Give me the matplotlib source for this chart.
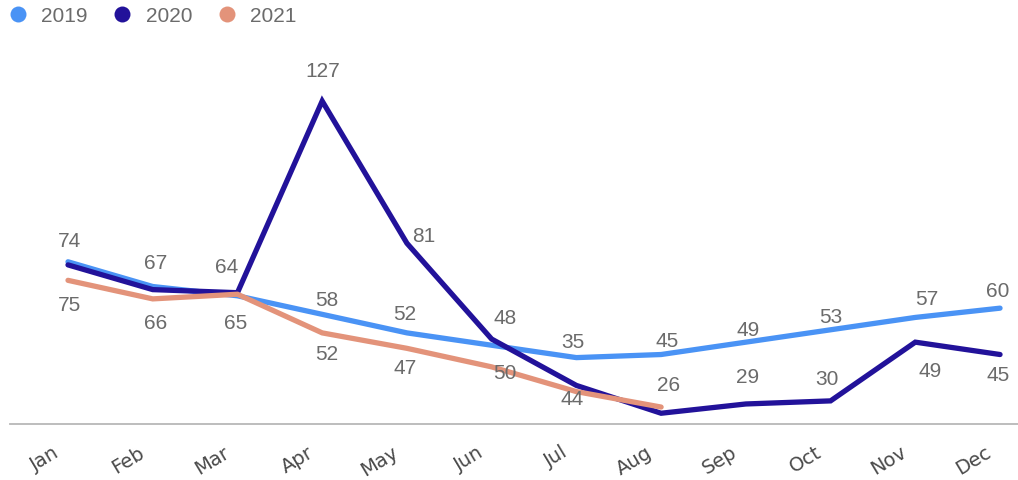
import matplotlib
matplotlib.use("Agg")
import matplotlib.pyplot as plt
from matplotlib.lines import Line2D
from matplotlib.transforms import ScaledTranslation

# ---- data -------------------------------------------------------------
months = ["Jan", "Feb", "Mar", "Apr", "May", "Jun",
          "Jul", "Aug", "Sep", "Oct", "Nov", "Dec"]
years = ["2019", "2020", "2021"]

values_2019 = [75, 67, 64, 58, 52, 48, 44, 45, 49, 53, 57, 60]
values_2020 = [74, 66, 65, 127, 81, 50, 35, 26, 29, 30, 49, 45]
values_2021 = [69, 63, 64.5, 52, 47, 41, 33, 28]

# which points carry a value label
labelled_2019 = [True] * 12
labelled_2020 = [True] * 12
labelled_2021 = [False, False, False, True, True, False, False, False]

# ---- styling ----------------------------------------------------------
colors = ["#4A93F5", "#22129A", "#E3937A"]
text_gray = "#6b6b6b"
axis_gray = "#b8b8b8"

# label placement relative to the point, in pixels (dx right, dy down)
offsets_2019 = [(2, 43), (3, -24), (-11, -29), (5, -15), (-2, -19), (13, -28),
                (-4, 41), (6, -14), (2, -13), (0, -13), (11, -19), (-2, -18)]
offsets_2020 = [(2, -24), (3, 33), (-2, 30), (1, -31), (17, -8), (13, 33),
                (-4, -44), (7, -29), (2, -27), (-4, -22), (15, 28), (-2, 20)]
offsets_2021 = [(0, 0), (0, 0), (0, 0), (5, 21), (-2, 19), (0, 0), (0, 0), (0, 0)]

DPI = 100
W, H = 1018, 481
fig = plt.figure(figsize=(W / DPI, H / DPI), dpi=DPI)
fig.patch.set_facecolor("white")

# plot area: bottom edge at 425 px, top at 40 px, left at 10 px
ax = fig.add_axes([10 / W, (H - 425) / H, (W - 10) / W, 385 / H])
ax.set_facecolor("white")

x = list(range(len(months)))
series = [
    (values_2019, labelled_2019, offsets_2019, colors[0], 2),
    (values_2020, labelled_2020, offsets_2020, colors[1], 3),
    (values_2021, labelled_2021, offsets_2021, colors[2], 4),
]

label_font = dict(family=["Liberation Sans", "DejaVu Sans"], size=15, color=text_gray)

for vals, flags, offs, col, z in series:
    xs = x[:len(vals)]
    ax.plot(xs, vals, color=col, lw=3.8, solid_capstyle="round",
            solid_joinstyle="miter", zorder=z)
    for xi, v, show, (dx, dy) in zip(xs, vals, flags, offs):
        if not show:
            continue
        ax.annotate(f"{v:g}", (xi, v), xytext=(dx * 72 / DPI, -dy * 72 / DPI),
                    textcoords="offset points", ha="center", va="center",
                    zorder=6, **label_font)

ax.set_xlim(-0.6845, 11.212)
ax.set_ylim(22.52, 147.08)

for side in ("top", "right", "left"):
    ax.spines[side].set_visible(False)
ax.spines["bottom"].set_color(axis_gray)
ax.spines["bottom"].set_linewidth(1.3)
ax.set_yticks([])

ax.set_xticks(x)
ax.set_xticklabels(months, rotation=31, ha="right", rotation_mode="anchor",
                   family=["DejaVu Sans"], fontsize=14,
                   color="#4a4a4a")
ax.tick_params(axis="x", length=0, pad=13)
shift = ScaledTranslation(-15 / DPI, 0, fig.dpi_scale_trans)
for lab in ax.get_xticklabels():
    lab.set_transform(lab.get_transform() + shift)

# legend across the top-left corner
handles = [Line2D([], [], ls="", marker="o", markersize=11.5, color=c,
                  markeredgewidth=0) for c in colors]
fig.legend(handles, years, loc="upper left",
           bbox_to_anchor=(9.7 / W, 1 - 7 / H), frameon=False, ncol=3,
           handlelength=0.8, handletextpad=0.71, columnspacing=1.27,
           borderpad=0, borderaxespad=0,
           prop=dict(family=["Liberation Sans", "DejaVu Sans"], size=15),
           labelcolor=text_gray)

fig.savefig("out.png", dpi=DPI, facecolor="white")
